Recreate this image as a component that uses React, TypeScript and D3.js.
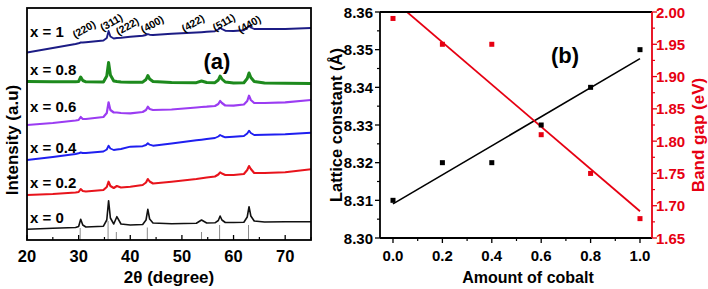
import React from "react";
import * as d3 from "d3";

// ---------- Panel (a): XRD data ----------
const THETA = [20, 25, 29.4, 30.0, 30.4, 30.8, 31.4, 34.8, 35.45, 35.8, 36.15, 36.8, 37.4, 38.2, 40, 42.4, 43.05, 43.4, 43.75, 44.4, 48, 52.8, 53.8, 54.8, 56.4, 57.05, 57.4, 57.75, 58.4, 60, 62.0, 62.65, 63.0, 63.35, 64.0, 66, 70, 75];

const I_X0 = [10.7, 11.7, 12.5, 13.5, 20.7, 15, 13, 13.8, 20, 39.3, 22, 16, 23.3, 16, 15, 15.5, 20, 30.7, 21, 17, 16.3, 16.8, 20, 17, 17.2, 19.5, 24, 20, 17.5, 17.5, 17.8, 23, 33.3, 24, 19, 18, 18.3, 18.3];
const I_X02 = [45, 46, 47.5, 48, 51, 49, 48.5, 50, 53, 58.3, 54, 52, 54, 52.5, 53.3, 55, 57.5, 61, 58.5, 56.5, 58.3, 61, 61.8, 62.5, 63.5, 65.5, 67.7, 66.5, 65, 65, 66, 70, 74, 71, 67, 67, 67.7, 70.7];
const I_X04 = [80, 83, 86, 86.7, 87.5, 87, 87, 88.5, 90.5, 94.3, 91.5, 90, 90.5, 91, 93.3, 93.8, 95, 96.7, 95.3, 94.3, 96.5, 99.7, 100.3, 101, 102, 103.5, 105, 104, 102.7, 103.3, 104, 106.5, 109.3, 107, 105, 105.2, 105.7, 107.3];
const I_X06 = [115, 117, 119.5, 120, 123, 121, 121, 123, 127, 137.7, 130, 127.5, 127.5, 127, 126.7, 128, 130, 133.3, 131, 130, 130.5, 132.5, 133, 133.3, 134, 136, 139, 137, 134.5, 134.3, 135.5, 139, 144.3, 140, 137, 137, 137.7, 140];
const I_X08 = [158.5, 158.3, 158.2, 158.5, 163, 159.5, 158.2, 158, 164, 177.5, 165, 159, 158.5, 158, 157.8, 157.8, 160.5, 164.5, 161, 158.5, 157.5, 157.3, 159, 157.5, 157.3, 160, 164, 161, 158, 157, 157.3, 161.5, 167, 162.5, 158.5, 157, 156.7, 156.5];
const I_X1 = [187.5, 192, 196, 196.7, 197.5, 197.5, 197.8, 199.5, 202, 209, 203.5, 201.5, 202, 202.3, 203.3, 204.3, 205, 205.8, 205.3, 205, 206.3, 207.5, 207.8, 208.2, 208.8, 210.5, 212.3, 211, 209.3, 209, 209.8, 212, 214.3, 212.5, 211, 211, 211, 212];

const SERIES_LABELS = ["x = 0", "x = 0.2", "x = 0.4", "x = 0.6", "x = 0.8", "x = 1"];
const SERIES_COLORS = ["#111111", "#e8141c", "#1f1ff0", "#9b3cf2", "#1d8a1d", "#1c1c85"];
const SERIES_WIDTHS = [1.6, 2.1, 1.9, 2.2, 3.0, 1.9];
const LABEL_INT = [23, 57.5, 93, 133.5, 171, 208.5];

const REF_POS = [30.3, 35.7, 37.3, 43.3, 53.8, 57.3, 62.9];
const REF_INT = [12, 19, 8, 12.5, 8, 15, 15];

const HKL = ["(220)", "(311)", "(222)", "(400)", "(422)", "(511)", "(440)"];
const HKL_POS = [31.0, 36.3, 39.4, 44.2, 52.1, 58.1, 63.0];
const HKL_INT = [211, 218, 214, 216, 217, 218, 216];

const XA_TICKS = [20, 30, 40, 50, 60, 70];
const XA_MINOR = [25, 35, 45, 55, 65, 75];

// ---------- Panel (b) ----------
const COBALT = [0, 0.2, 0.4, 0.6, 0.8, 1.0];
const LATTICE = [8.31, 8.32, 8.32, 8.33, 8.34, 8.35];
const BANDGAP = [1.99, 1.95, 1.95, 1.81, 1.75, 1.68];
const XB_TICKS = [0, 0.2, 0.4, 0.6, 0.8, 1.0];
const XB_MINOR = [0.1, 0.3, 0.5, 0.7, 0.9];
const YL_TICKS = [8.30, 8.31, 8.32, 8.33, 8.34, 8.35, 8.36];
const YL_MINOR = [8.305, 8.315, 8.325, 8.335, 8.345, 8.355];
const YR_TICKS = [1.65, 1.70, 1.75, 1.80, 1.85, 1.90, 1.95, 2.00];
const YR_MINOR = [1.675, 1.725, 1.775, 1.825, 1.875, 1.925, 1.975];

const FONT = "'Liberation Sans', Arial, Helvetica, sans-serif";
const RED = "#e60012";

function linfit(xs: number[], ys: number[]) {
  const mx = d3.mean(xs) as number;
  const my = d3.mean(ys) as number;
  let sxy = 0, sxx = 0;
  xs.forEach((x, i) => { sxy += (x - mx) * (ys[i] - my); sxx += (x - mx) * (x - mx); });
  const m = sxy / sxx;
  return (x: number) => my + m * (x - mx);
}

export default function App() {
  // Panel a scales
  const xa = d3.scaleLinear().domain([20, 75]).range([27, 311]);
  const ya = d3.scaleLinear().domain([0, 232]).range([240, 8]);
  const series = [I_X0, I_X02, I_X04, I_X06, I_X08, I_X1];
  const line = d3.line<[number, number]>().x(d => xa(d[0])).y(d => ya(d[1])).curve(d3.curveLinear);

  // Panel b scales
  const xb = d3.scaleLinear().domain([-0.0526, 1.0486]).range([380, 652]);
  const yl = d3.scaleLinear().domain([8.30, 8.36]).range([238, 12]);
  const yr = d3.scaleLinear().domain([1.65, 2.00]).range([238, 12]);
  const fitL = linfit(COBALT, LATTICE);
  const fitB = linfit(COBALT, BANDGAP);

  const aL = xa.range()[0], aR = xa.range()[1], aT = ya.range()[1], aB = ya.range()[0];
  const bL = xb.range()[0], bR = xb.range()[1], bT = yl.range()[1], bB = yl.range()[0];

  return (
    <svg width={708} height={289} style={{ position: "absolute", left: 0, top: 0, background: "#fff" }} fontFamily={FONT}>
      <defs>
        <clipPath id="clipA"><rect x={aL} y={aT} width={aR - aL} height={aB - aT} /></clipPath>
        <clipPath id="clipB"><rect x={bL} y={bT} width={bR - bL} height={bB - bT} /></clipPath>
      </defs>
      <rect x={0} y={0} width={708} height={289} fill="#fff" />

      {/* ---------- Panel (a) ---------- */}
      <g clipPath="url(#clipA)">
        {REF_POS.map((p, i) => (
          <line key={"ref" + i} x1={xa(p)} x2={xa(p)} y1={ya(0)} y2={ya(REF_INT[i])} stroke="#8a8a8a" strokeWidth={1} />
        ))}
        {series.map((s, k) => (
          <path key={"s" + k} d={line(THETA.map((t, i) => [t, s[i]] as [number, number])) || ""}
            fill="none" stroke={SERIES_COLORS[k]} strokeWidth={SERIES_WIDTHS[k]} strokeLinejoin="round" />
        ))}
      </g>
      {XA_TICKS.map(t => (
        <g key={"xat" + t}>
          <line x1={xa(t)} x2={xa(t)} y1={aB} y2={aB - 5} stroke="#000" strokeWidth={1.3} />
          <text x={xa(t)} y={256} textAnchor="middle" dominantBaseline="central" fontSize={16.5} fontWeight="bold">{t}</text>
        </g>
      ))}
      {XA_MINOR.map(t => (
        <line key={"xam" + t} x1={xa(t)} x2={xa(t)} y1={aB} y2={aB - 3} stroke="#000" strokeWidth={1.2} />
      ))}
      <rect x={aL} y={aT} width={aR - aL} height={aB - aT} fill="none" stroke="#000" strokeWidth={1.8} />
      {SERIES_LABELS.map((l, k) => (
        <text key={"lab" + k} x={xa(20.6)} y={ya(LABEL_INT[k])} dominantBaseline="central" fontSize={15} fontWeight="bold">{l}</text>
      ))}
      {HKL.map((h, i) => (
        <text key={"hkl" + i} transform={`translate(${xa(HKL_POS[i])},${ya(HKL_INT[i])}) rotate(-30)`}
          textAnchor="middle" dominantBaseline="central" fontSize={10.5} fontWeight="bold">{h}</text>
      ))}
      <text x={217} y={61} textAnchor="middle" dominantBaseline="central" fontSize={22} fontWeight="bold">(a)</text>
      <text x={(aL + aR) / 2} y={277} textAnchor="middle" dominantBaseline="central" fontSize={17} fontWeight="bold">2θ (degree)</text>
      <text transform={`translate(12,${(aT + aB) / 2 + 16}) rotate(-90)`} textAnchor="middle" dominantBaseline="central" fontSize={17} fontWeight="bold">Intensity (a.u)</text>

      {/* ---------- Panel (b) ---------- */}
      <g clipPath="url(#clipB)">
        <line x1={xb(0)} x2={xb(1)} y1={yl(fitL(0))} y2={yl(fitL(1))} stroke="#000" strokeWidth={1.6} />
        <line x1={xb(0)} x2={xb(1)} y1={yr(fitB(0))} y2={yr(fitB(1))} stroke={RED} strokeWidth={1.8} />
      </g>
      {COBALT.map((c, i) => (
        <rect key={"l" + i} x={xb(c) - 2.5} y={yl(LATTICE[i]) - 2.5} width={5} height={5} fill="#000" />
      ))}
      {COBALT.map((c, i) => (
        <rect key={"b" + i} x={xb(c) - 2.5} y={yr(BANDGAP[i]) - 2.5} width={5} height={5} fill={RED} />
      ))}
      {/* axes */}
      <line x1={bL} x2={bR} y1={bT} y2={bT} stroke="#000" strokeWidth={1.8} />
      <line x1={bL} x2={bR} y1={bB} y2={bB} stroke="#000" strokeWidth={1.8} />
      <line x1={bL} x2={bL} y1={bT} y2={bB} stroke="#000" strokeWidth={1.8} />
      <line x1={bR} x2={bR} y1={bT} y2={bB} stroke={RED} strokeWidth={1.8} />
      {XB_TICKS.map(t => (
        <g key={"xbt" + t}>
          <line x1={xb(t)} x2={xb(t)} y1={bB} y2={bB + 5} stroke="#000" strokeWidth={1.3} />
          <text x={xb(t)} y={255} textAnchor="middle" dominantBaseline="central" fontSize={15} fontWeight="bold">{d3.format(".1f")(t)}</text>
        </g>
      ))}
      {XB_MINOR.map(t => (
        <line key={"xbm" + t} x1={xb(t)} x2={xb(t)} y1={bB} y2={bB + 3} stroke="#000" strokeWidth={1.2} />
      ))}
      {YL_TICKS.map(t => (
        <g key={"ylt" + t}>
          <line x1={bL} x2={bL - 5} y1={yl(t)} y2={yl(t)} stroke="#000" strokeWidth={1.3} />
          <text x={bL - 7} y={yl(t)} textAnchor="end" dominantBaseline="central" fontSize={15} fontWeight="bold">{d3.format(".2f")(t)}</text>
        </g>
      ))}
      {YL_MINOR.map(t => (
        <line key={"ylm" + t} x1={bL} x2={bL - 3} y1={yl(t)} y2={yl(t)} stroke="#000" strokeWidth={1.2} />
      ))}
      {YR_TICKS.map(t => (
        <g key={"yrt" + t}>
          <line x1={bR} x2={bR + 5} y1={yr(t)} y2={yr(t)} stroke={RED} strokeWidth={1.3} />
          <text x={bR + 4} y={yr(t)} textAnchor="start" dominantBaseline="central" fontSize={15} fontWeight="bold" fill={RED}>{d3.format(".2f")(t)}</text>
        </g>
      ))}
      {YR_MINOR.map(t => (
        <line key={"yrm" + t} x1={bR} x2={bR + 3} y1={yr(t)} y2={yr(t)} stroke={RED} strokeWidth={1.2} />
      ))}
      <text x={565} y={55} textAnchor="middle" dominantBaseline="central" fontSize={22} fontWeight="bold">(b)</text>
      <text x={(bL + bR) / 2 + 12} y={277} textAnchor="middle" dominantBaseline="central" fontSize={16} fontWeight="bold">Amount of cobalt</text>
      <text transform={`translate(336,${(bT + bB) / 2}) rotate(-90)`} textAnchor="middle" dominantBaseline="central" fontSize={16.5} fontWeight="bold">Lattice constant (Å)</text>
      <text transform={`translate(698,135) rotate(-90)`} textAnchor="middle" dominantBaseline="central" fontSize={17} fontWeight="bold" fill={RED}>Band gap (eV)</text>
    </svg>
  );
}
